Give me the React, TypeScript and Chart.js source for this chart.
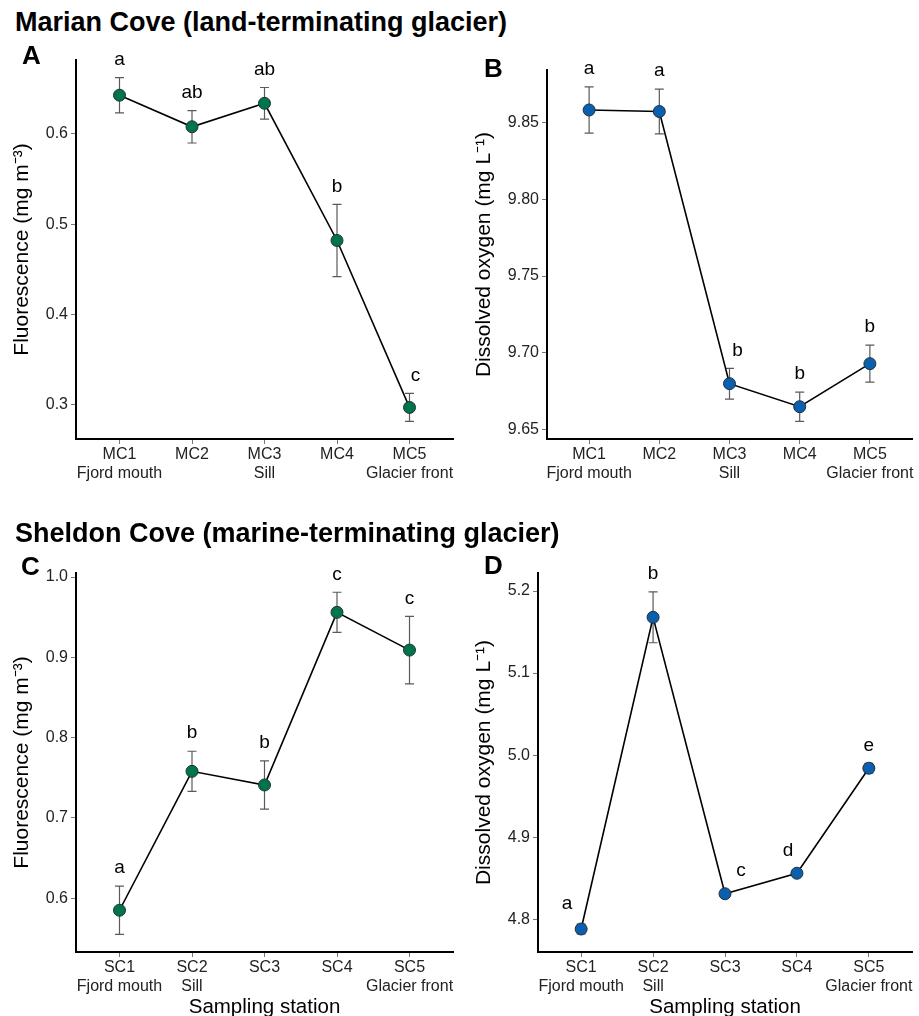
import React, { useEffect, useRef } from "react";
import Chart from "chart.js/auto";

// ---------- data ----------
const mcCodes = ["MC1", "MC2", "MC3", "MC4", "MC5"];
const scCodes = ["SC1", "SC2", "SC3", "SC4", "SC5"];
const mcNames = ["Fjord mouth", "", "Sill", "", "Glacier front"];
const scNames = ["Fjord mouth", "Sill", "", "", "Glacier front"];

const fluoMC = [0.643, 0.608, 0.634, 0.482, 0.297];
const fluoMCse = [0.0195, 0.018, 0.0175, 0.04, 0.0155];
const fluoMCletters = ["a", "ab", "ab", "b", "c"];

const doMC = [9.858, 9.857, 9.68, 9.665, 9.693];
const doMCse = [0.015, 0.0145, 0.01, 0.0095, 0.012];
const doMCletters = ["a", "a", "b", "b", "b"];

const fluoSC = [0.585, 0.758, 0.741, 0.956, 0.909];
const fluoSCse = [0.03, 0.025, 0.03, 0.025, 0.042];
const fluoSCletters = ["a", "b", "b", "c", "c"];

const doSC = [4.788, 5.168, 4.831, 4.856, 4.984];
const doSCse = [0.006, 0.031, 0.002, 0.002, 0.006];
const doSCletters = ["a", "b", "c", "d", "e"];

const ticksFluoMC = [0.3, 0.4, 0.5, 0.6];
const tickLabelsFluoMC = ["0.3", "0.4", "0.5", "0.6"];
const ticksDoMC = [9.65, 9.7, 9.75, 9.8, 9.85];
const tickLabelsDoMC = ["9.65", "9.70", "9.75", "9.80", "9.85"];
const ticksFluoSC = [0.6, 0.7, 0.8, 0.9, 1.0];
const tickLabelsFluoSC = ["0.6", "0.7", "0.8", "0.9", "1.0"];
const ticksDoSC = [4.8, 4.9, 5.0, 5.1, 5.2];
const tickLabelsDoSC = ["4.8", "4.9", "5.0", "5.1", "5.2"];

// letter nudges (px) [dx, dy]
const nudgeA = [[0, 0], [0, 0], [0, 0], [0, 0], [6, 0]];
const nudgeB = [[0, 0], [0, 0], [8, 0], [0, 0], [0, 0]];
const nudgeC = [[0, 0], [0, 0], [0, 0], [0, 0], [0, 0]];
const nudgeD = [[-14, -2], [0, 0], [16, -3], [-9, -3], [0, 0]];

const FONT = "Arial, 'Liberation Sans', Helvetica, sans-serif";
const GREEN = "#00744a";
const BLUE = "#0a5fae";

type PanelCfg = {
  left: number; top: number; w: number; h: number;
  L: number; T: number; R: number; B: number;
  codes: string[]; names: string[];
  mean: number[]; se: number[]; letters: string[]; nudge: number[][];
  yMin: number; yMax: number; yTicks: number[]; yTickLabels: string[];
  yTitle: string; yTitlePad: number; xTitle?: string; color: string;
};

const panels: PanelCfg[] = [
  {
    left: 0, top: 40, w: 460, h: 480, L: 76, T: 20, R: 454, B: 399,
    codes: mcCodes, names: mcNames, mean: fluoMC, se: fluoMCse, letters: fluoMCletters, nudge: nudgeA,
    yMin: 0.262, yMax: 0.682, yTicks: ticksFluoMC, yTickLabels: tickLabelsFluoMC,
    yTitle: "Fluorescence (mg m⁻³)", yTitlePad: 10, color: GREEN,
  },
  {
    left: 460, top: 40, w: 459, h: 480, L: 87, T: 30, R: 455, B: 399,
    codes: mcCodes, names: mcNames, mean: doMC, se: doMCse, letters: doMCletters, nudge: nudgeB,
    yMin: 9.644, yMax: 9.884, yTicks: ticksDoMC, yTickLabels: tickLabelsDoMC,
    yTitle: "Dissolved oxygen (mg L⁻¹)", yTitlePad: 12, color: BLUE,
  },
  {
    left: 0, top: 540, w: 460, h: 476, L: 76, T: 33, R: 454, B: 412,
    codes: scCodes, names: scNames, mean: fluoSC, se: fluoSCse, letters: fluoSCletters, nudge: nudgeC,
    yMin: 0.533, yMax: 1.005, yTicks: ticksFluoSC, yTickLabels: tickLabelsFluoSC,
    yTitle: "Fluorescence (mg m⁻³)", yTitlePad: 10, xTitle: "Sampling station", color: GREEN,
  },
  {
    left: 460, top: 540, w: 459, h: 476, L: 78, T: 33, R: 455, B: 412,
    codes: scCodes, names: scNames, mean: doSC, se: doSCse, letters: doSCletters, nudge: nudgeD,
    yMin: 4.76, yMax: 5.222, yTicks: ticksDoSC, yTickLabels: tickLabelsDoSC,
    yTitle: "Dissolved oxygen (mg L⁻¹)", yTitlePad: 12, xTitle: "Sampling station", color: BLUE,
  },
];

function makeErrPlugin(p: PanelCfg) {
  return {
    id: "errLetters",
    beforeDatasetsDraw(chart: any) {
      const ctx = chart.ctx;
      const xs = chart.scales.x;
      const ys = chart.scales.y;
      ctx.save();
      ctx.strokeStyle = "#5a5a5a";
      ctx.lineWidth = 1.2;
      p.mean.forEach((m, i) => {
        const x = xs.getPixelForValue(i);
        const yt = ys.getPixelForValue(m + p.se[i]);
        const yb = ys.getPixelForValue(m - p.se[i]);
        ctx.beginPath();
        ctx.moveTo(x, yt);
        ctx.lineTo(x, yb);
        ctx.moveTo(x - 4.5, yt);
        ctx.lineTo(x + 4.5, yt);
        ctx.moveTo(x - 4.5, yb);
        ctx.lineTo(x + 4.5, yb);
        ctx.stroke();
      });
      ctx.restore();
    },
    afterDatasetsDraw(chart: any) {
      const ctx = chart.ctx;
      const xs = chart.scales.x;
      const ys = chart.scales.y;
      ctx.save();
      ctx.fillStyle = "#000";
      ctx.font = `19px ${FONT}`;
      ctx.textAlign = "center";
      ctx.textBaseline = "middle";
      p.mean.forEach((m, i) => {
        const x = xs.getPixelForValue(i) + p.nudge[i][0];
        const yt = ys.getPixelForValue(m + p.se[i]);
        ctx.fillText(p.letters[i], x, yt - 18 + p.nudge[i][1]);
      });
      ctx.restore();
    },
  };
}

function Panel({ p }: { p: PanelCfg }) {
  const ref = useRef<HTMLCanvasElement>(null);
  useEffect(() => {
    const canvas = ref.current!;
    const chart = new Chart(canvas, {
      type: "line",
      data: {
        datasets: [
          {
            data: p.mean.map((v, i) => ({ x: i, y: v })),
            borderColor: "#000",
            borderWidth: 1.6,
            pointRadius: 6,
            pointBackgroundColor: p.color,
            pointBorderColor: "#22303a",
            pointBorderWidth: 1,
            fill: false,
            tension: 0,
            clip: false as any,
          },
        ],
      },
      options: {
        animation: false,
        responsive: false,
        devicePixelRatio: 1,
        events: [],
        layout: { padding: { left: 0, top: p.T, right: p.w - p.R, bottom: 0 } },
        plugins: { legend: { display: false }, tooltip: { enabled: false } },
        scales: {
          x: {
            type: "linear",
            min: -0.6,
            max: 4.6,
            afterBuildTicks: (s: any) => {
              s.ticks = p.codes.map((_, i) => ({ value: i }));
            },
            afterFit: (s: any) => {
              s.height = p.h - p.B;
              s.paddingLeft = 0;
              s.paddingRight = 0;
            },
            ticks: {
              autoSkip: false,
              maxRotation: 0,
              minRotation: 0,
              padding: 1,
              color: "#222",
              font: { family: FONT, size: 16, lineHeight: 1.2 },
              callback: (_v: any, i: number) => [p.codes[i], p.names[i]],
            },
            grid: { display: true, drawOnChartArea: false, drawTicks: true, tickLength: 5, color: "#777", lineWidth: 1 },
            border: { display: true, color: "#000", width: 2 },
            title: p.xTitle
              ? { display: true, text: p.xTitle, color: "#000", font: { family: FONT, size: 20.5, lineHeight: 1 }, padding: { top: 0, bottom: -2 } }
              : { display: false },
          },
          y: {
            type: "linear",
            min: p.yMin,
            max: p.yMax,
            afterBuildTicks: (s: any) => {
              s.ticks = p.yTicks.map((v) => ({ value: v }));
            },
            afterFit: (s: any) => {
              s.width = p.L;
              s.paddingTop = 0;
              s.paddingBottom = 0;
            },
            ticks: {
              padding: 3,
              color: "#222",
              font: { family: FONT, size: 16 },
              callback: (_v: any, i: number) => p.yTickLabels[i],
            },
            grid: { display: true, drawOnChartArea: false, drawTicks: true, tickLength: 5, color: "#777", lineWidth: 1 },
            border: { display: true, color: "#000", width: 2 },
            title: { display: true, text: p.yTitle, color: "#000", font: { family: FONT, size: 21, lineHeight: 1.2 }, padding: { top: p.yTitlePad, bottom: 0 } },
          },
        },
      },
      plugins: [makeErrPlugin(p)],
    } as any);
    return () => chart.destroy();
  }, [p]);
  return (
    <canvas
      ref={ref}
      width={p.w}
      height={p.h}
      style={{ position: "absolute", left: p.left, top: p.top, width: p.w, height: p.h }}
    />
  );
}

const textStyle: React.CSSProperties = {
  position: "absolute",
  fontFamily: FONT,
  fontWeight: "bold",
  color: "#000",
  whiteSpace: "nowrap",
};

export default function App() {
  return (
    <div style={{ position: "fixed", left: 0, top: 0, width: 919, height: 1016, background: "#fff", overflow: "hidden" }}>
      {panels.map((p, i) => (
        <Panel key={i} p={p} />
      ))}
      <div style={{ ...textStyle, left: 15, top: 9, fontSize: 27, lineHeight: "27px" }}>Marian Cove (land-terminating glacier)</div>
      <div style={{ ...textStyle, left: 15, top: 520, fontSize: 27, lineHeight: "27px" }}>Sheldon Cove (marine-terminating glacier)</div>
      <div style={{ ...textStyle, left: 22, top: 42, fontSize: 26, lineHeight: "26px" }}>A</div>
      <div style={{ ...textStyle, left: 484, top: 55, fontSize: 26, lineHeight: "26px" }}>B</div>
      <div style={{ ...textStyle, left: 21, top: 553, fontSize: 26, lineHeight: "26px" }}>C</div>
      <div style={{ ...textStyle, left: 484, top: 552, fontSize: 26, lineHeight: "26px" }}>D</div>
    </div>
  );
}
